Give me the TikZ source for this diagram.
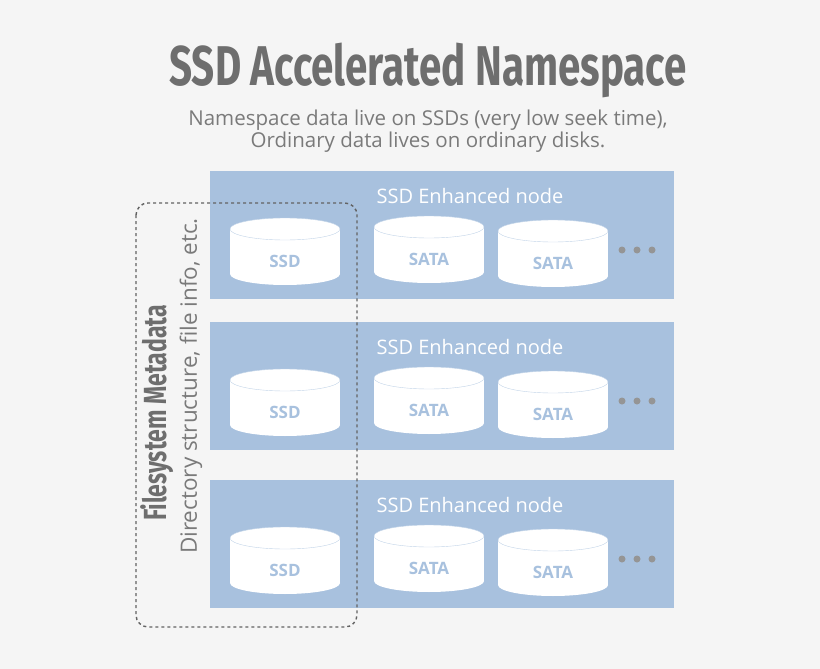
\documentclass[tikz,border=0pt]{standalone}
\usepackage{fontspec}
\setmainfont{Open Sans}
\newfontfamily\cond{Fira Sans}
\begin{document}
\definecolor{bg}{HTML}{F5F5F5}
\definecolor{panel}{HTML}{A8C1DE}
\definecolor{txt}{HTML}{7A7A7A}
\definecolor{ttl}{HTML}{6E6E6E}
\begin{tikzpicture}[x=1pt,y=-1pt,
  panelbox/.style={fill=panel,draw=none},
  lbl/.style={text=white,font=\fontsize{20}{20}\selectfont},
  cyl/.style={font=\bfseries\fontsize{17}{17}\selectfont,text=panel},
  dot/.style={circle,fill=txt!80,inner sep=0pt,minimum size=7pt}]
\fill[bg] (0,0) rectangle (820,669);
\useasboundingbox (0,0) rectangle (820,669);
\node[text=ttl] (title) at (428,70) {\scalebox{0.72}[1]{\cond\bfseries\fontsize{56}{56}\selectfont SSD Accelerated Namespace}};
\node[text=txt,font=\fontsize{20.5}{20.5}\selectfont,align=center] (sub) at (428,131) {Namespace data live on SSDs (very low seek time),\\[2pt]Ordinary data lives on ordinary disks.};
\foreach \t/\n in {171/a,322/b,480/c}{
  \fill[panelbox] (210,\t) rectangle (674,\t+128);
  \node[lbl] (lbl\n) at (470,\t+25) {SSD Enhanced node};
  \foreach \x/\dy/\s/\k in {285/58/SSD/1,429/56/SATA/2,553/60/SATA/3}{
    \fill[white] (\x-55,\t+\dy) rectangle (\x+55,\t+\dy+45);
    \fill[white] (\x,\t+\dy+45) ellipse[x radius=55,y radius=11];
    \draw[panel!70,fill=white] (\x,\t+\dy) ellipse[x radius=55,y radius=11];
    \node[cyl] (c\n\k) at (\x,\t+\dy+32) {\s};
  }
  \foreach \dx/\k in {622/1,637/2,652/3} \node[dot] (d\n\k) at (\dx,\t+79) {};
}
\draw[dashed,draw=ttl!90!black,line width=1.4pt,rounded corners=12pt] (136,203) rectangle (357,627);
\node[rotate=90,text=ttl] (fm) at (157,413) {\scalebox{0.72}[1]{\cond\bfseries\fontsize{32}{32}\selectfont Filesystem Metadata}};
\node[rotate=90,text=txt,font=\fontsize{22.5}{22.5}\selectfont] (ds) at (191,386) {Directory structure, file info, etc.};
\end{tikzpicture}
\end{document}
